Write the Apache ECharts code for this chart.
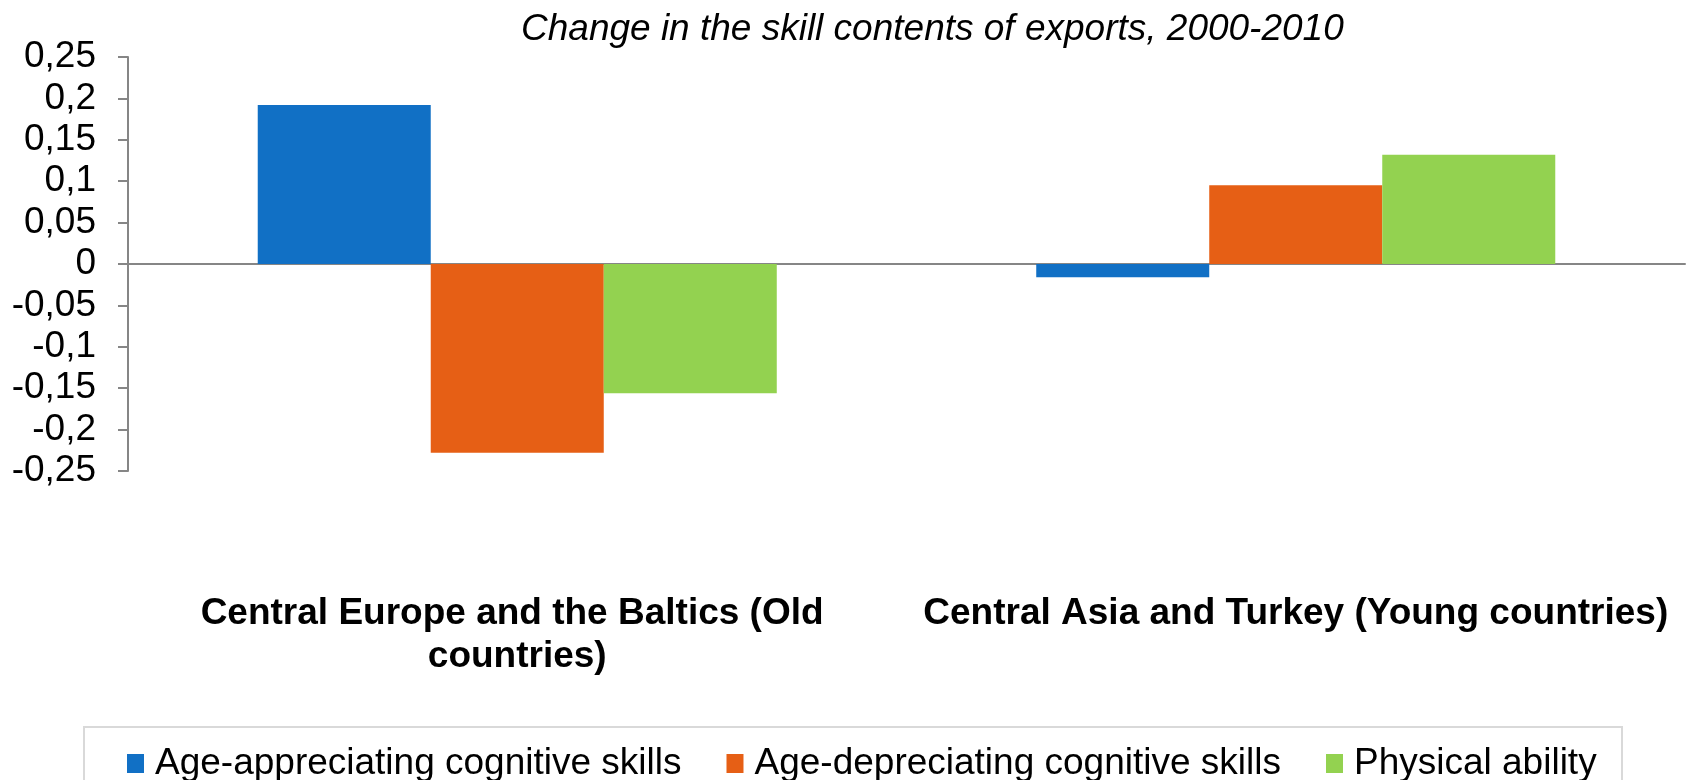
<!DOCTYPE html>
<html>
<head>
<meta charset="utf-8">
<script src="https://cdn.jsdelivr.net/npm/echarts@6/dist/echarts.min.js"></script>
<style>
  html, body { margin: 0; padding: 0; background: #fff; }
  #chart { width: 1696px; height: 780px; }
</style>
</head>
<body>
<div id="chart"></div>
<script>
// datos del gráfico
const regions = ['Central Europe and the Baltics (Old countries)', 'Central Asia and Turkey (Young countries)'];
const seriesNames = ['Age-appreciating cognitive skills', 'Age-depreciating cognitive skills', 'Physical ability'];
const ageAppreciating = [0.192, -0.016];
const ageDepreciating = [-0.228, 0.095];
const physicalAbility = [-0.156, 0.132];
const colors = ['#1170C5', '#E65F15', '#93D250'];

const chart = echarts.init(document.getElementById('chart'));
const font = 'Liberation Sans, Arial, sans-serif';

const option = {
  animation: false,
  title: {
    text: 'Change in the skill contents of exports, 2000-2010',
    left: 516,
    top: 6,
    textStyle: { fontFamily: font, fontSize: 37, fontStyle: 'italic', fontWeight: 'normal', color: '#000' }
  },
  legend: {
    left: 122,
    top: 740,
    itemWidth: 17,
    itemHeight: 19,
    itemGap: 45,
    icon: 'rect',
    textStyle: { fontFamily: font, fontSize: 37, color: '#000', padding: [0, 0, 0, 6] },
    data: seriesNames
  },
  graphic: [{
    type: 'rect',
    shape: { x: 84, y: 727, width: 1538, height: 80 },
    style: { fill: 'none', stroke: '#d9d9d9', lineWidth: 2 },
    silent: true
  }],
  grid: { left: 128, right: 11, top: 57, bottom: 309, containLabel: false, outerBoundsMode: 'none' },
  xAxis: {
    type: 'category',
    data: regions,
    axisLine: { lineStyle: { color: '#868686', width: 2 } },
    axisTick: { length: 10, lineStyle: { color: '#868686', width: 2 } },
    axisLabel: {
      margin: 121,
      interval: 0,
      width: 770,
      overflow: 'break',
      lineHeight: 43,
      verticalAlign: 'top',
      fontFamily: font,
      fontSize: 37,
      fontWeight: 'bold',
      color: '#000'
    }
  },
  yAxis: {
    type: 'value',
    min: -0.25,
    max: 0.25,
    interval: 0.05,
    splitLine: { show: false },
    axisLine: { show: true, lineStyle: { color: '#868686', width: 2 } },
    axisTick: { show: true, length: 10, lineStyle: { color: '#868686', width: 2 } },
    axisLabel: {
      margin: 32,
      fontFamily: font,
      fontSize: 37,
      color: '#000',
      formatter: v => String(Math.round(v * 100) / 100).replace('.', ',')
    }
  },
  series: [
    { name: seriesNames[0], type: 'bar', data: ageAppreciating, itemStyle: { color: colors[0] }, barGap: '0%', barCategoryGap: '33.33%' },
    { name: seriesNames[1], type: 'bar', data: ageDepreciating, itemStyle: { color: colors[1] } },
    { name: seriesNames[2], type: 'bar', data: physicalAbility, itemStyle: { color: colors[2] } }
  ]
};

chart.setOption(option);
</script>
</body>
</html>
